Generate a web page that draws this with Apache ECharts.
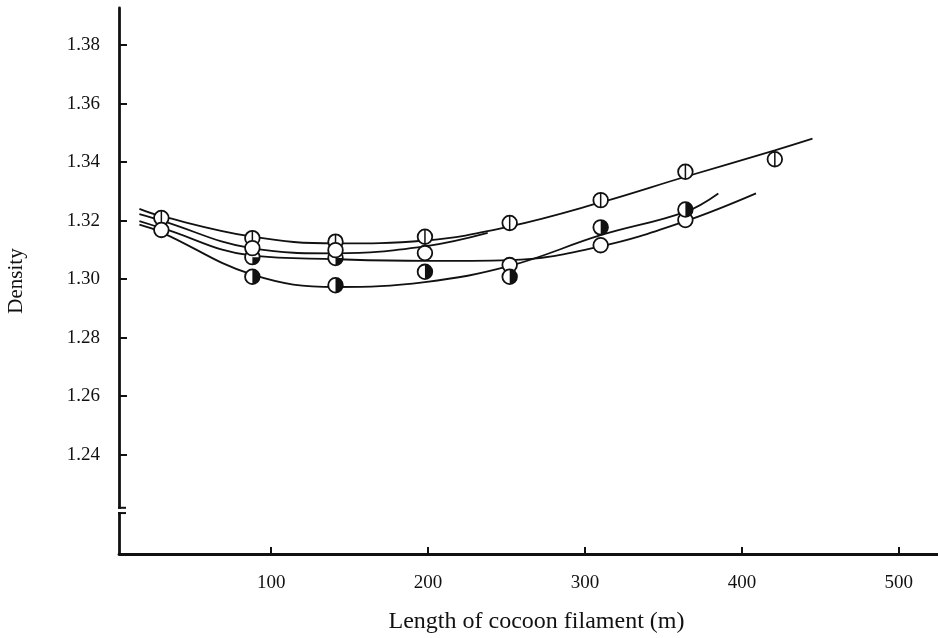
<!DOCTYPE html>
<html>
<head>
<meta charset="utf-8">
<script src="https://cdn.jsdelivr.net/npm/echarts@6/dist/echarts.min.js"></script>
<style>
  html, body { margin: 0; padding: 0; background: #fff; }
  #chart { width: 938px; height: 638px; }
</style>
</head>
<body>
<div id="chart"></div>
<script>
// tick labels
const xTicks = [100, 200, 300, 400, 500];
const yTicks = [1.24, 1.26, 1.28, 1.30, 1.32, 1.34, 1.36, 1.38];
const breakAt = [1.2218, 1.2200];

// measured points (marker series)
const ptsVline = [[30, 1.3209], [88, 1.3140], [141, 1.3128], [198, 1.3145], [252, 1.3192], [310, 1.3270], [364, 1.3367], [421, 1.3410]];
const ptsQuarter = [[88, 1.3075], [141, 1.3072]];
const ptsOpen = [[30, 1.3168], [88, 1.3106], [141, 1.3099], [198, 1.3089], [252, 1.3048], [310, 1.3116], [364, 1.3202]];
const ptsHalf = [[88, 1.3008], [141, 1.2979], [198, 1.3025], [252, 1.3008], [310, 1.3177], [364, 1.3238]];

// fitted curves
const curveA = [[16, 1.3240], [30, 1.3215], [88, 1.3145], [141, 1.3122], [198, 1.3132], [252, 1.3180], [310, 1.3262], [364, 1.3350], [421, 1.3440], [445, 1.3480]];
const curveB = [[16, 1.3222], [30, 1.3200], [88, 1.3105], [141, 1.3088], [198, 1.3112], [238, 1.3158]];
const curveC = [[16, 1.3198], [30, 1.3175], [88, 1.3080], [141, 1.3068], [198, 1.3062], [252, 1.3065], [310, 1.3112], [364, 1.3198], [409, 1.3293]];
const curveD = [[16, 1.3186], [30, 1.3160], [88, 1.3015], [141, 1.2973], [198, 1.2990], [252, 1.3045], [310, 1.3150], [364, 1.3230], [385, 1.3293]];

const ink = "#111";
const font = "'Liberation Serif', 'DejaVu Serif', serif";

const chart = echarts.init(document.getElementById("chart"));

function markerRender(kind) {
  return function (params, api) {
    const c = api.coord([api.value(0), api.value(1)]);
    const r = 7.3;
    const kids = [{
      type: "circle",
      shape: { cx: c[0], cy: c[1], r: r },
      style: { fill: "#fff", stroke: ink, lineWidth: 1.8 }
    }];
    if (kind === "vline") {
      kids.push({ type: "line", shape: { x1: c[0], y1: c[1] - r, x2: c[0], y2: c[1] + r }, style: { stroke: ink, lineWidth: 1.5 } });
    } else if (kind === "half") {
      kids.push({ type: "sector", shape: { cx: c[0], cy: c[1], r: r, r0: 0, startAngle: -Math.PI / 2, endAngle: Math.PI / 2 }, style: { fill: ink } });
    } else if (kind === "quarter") {
      kids.push({ type: "sector", shape: { cx: c[0], cy: c[1], r: r, r0: 0, startAngle: 0, endAngle: Math.PI / 2 }, style: { fill: ink } });
    }
    return { type: "group", children: kids };
  };
}

function curve(data) {
  return {
    type: "line",
    data: data,
    smooth: 0.4,
    symbol: "none",
    lineStyle: { color: ink, width: 1.8 },
    z: 2,
    animation: false
  };
}

function markers(data, kind, z) {
  return {
    type: "custom",
    data: data,
    renderItem: markerRender(kind),
    z: z,
    animation: false
  };
}

chart.setOption({
  animation: false,
  grid: { left: 119, right: 0, top: 8, bottom: 84, outerBoundsMode: "none" },
  xAxis: {
    type: "value",
    min: 3,
    max: 525,
    name: "Length of cocoon filament (m)",
    nameLocation: "middle",
    nameGap: 56,
    nameTextStyle: { fontFamily: font, fontSize: 24, color: ink, padding: [0, 0, 0, 16] },
    axisLine: { show: true, onZero: false, lineStyle: { color: ink, width: 2.8 } },
    axisTick: { show: true, inside: true, length: 7, customValues: xTicks, lineStyle: { color: ink, width: 2 } },
    axisLabel: { customValues: xTicks, margin: 20, fontFamily: font, fontSize: 19, color: ink },
    splitLine: { show: false }
  },
  yAxis: {
    type: "value",
    min: 1.206,
    max: 1.3927,
    name: "Density",
    nameLocation: "middle",
    nameGap: 92,
    nameRotate: 90,
    nameTextStyle: { fontFamily: font, fontSize: 21, color: ink },
    axisLine: { show: true, lineStyle: { color: ink, width: 2.8 } },
    axisTick: { show: true, inside: true, length: 8, customValues: yTicks, lineStyle: { color: ink, width: 2 } },
    axisLabel: {
      customValues: yTicks,
      margin: 19,
      fontFamily: font,
      fontSize: 19,
      color: ink,
      formatter: (v) => v.toFixed(2)
    },
    splitLine: { show: false }
  },
  series: [
    curve(curveA),
    curve(curveB),
    curve(curveC),
    curve(curveD),
    markers(ptsQuarter, "quarter", 3),
    markers(ptsVline, "vline", 4),
    markers(ptsOpen, "open", 5),
    markers(ptsHalf, "half", 6)
  ]
});

// axis break on the density axis
const brkTop = chart.convertToPixel({ gridIndex: 0 }, [3, breakAt[0]]);
const brkBot = chart.convertToPixel({ gridIndex: 0 }, [3, breakAt[1]]);
chart.setOption({
  graphic: [
    { type: "rect", shape: { x: brkTop[0] - 3, y: brkTop[1] + 1, width: 6, height: brkBot[1] - brkTop[1] - 2 }, style: { fill: "#fff" }, z: 10 },
    { type: "line", shape: { x1: brkTop[0] - 1, y1: brkTop[1], x2: brkTop[0] + 7, y2: brkTop[1] }, style: { stroke: ink, lineWidth: 2 }, z: 11 },
    { type: "line", shape: { x1: brkBot[0] - 1, y1: brkBot[1], x2: brkBot[0] + 7, y2: brkBot[1] }, style: { stroke: ink, lineWidth: 2 }, z: 11 }
  ]
});
</script>
</body>
</html>
